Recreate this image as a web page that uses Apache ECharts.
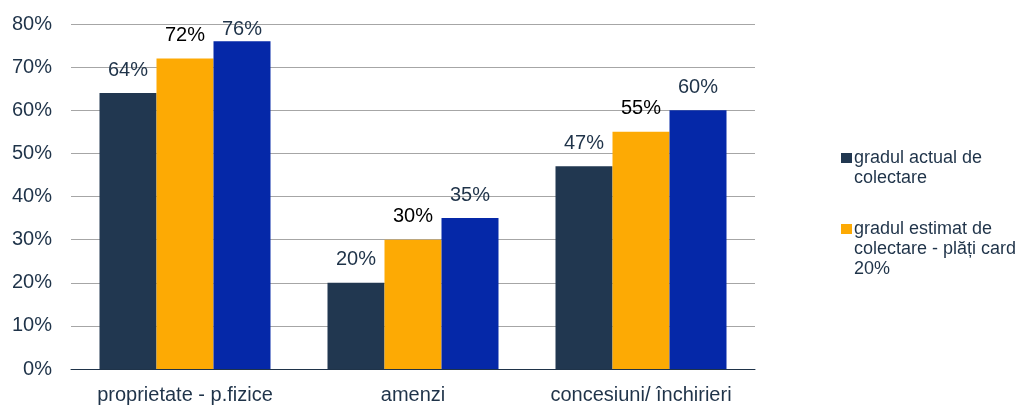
<!DOCTYPE html>
<html>
<head>
<meta charset="utf-8">
<script src="https://cdn.jsdelivr.net/npm/echarts@6/dist/echarts.min.js"></script>
<style>
  html, body { margin: 0; padding: 0; background: #ffffff; }
  #chart { width: 1023px; height: 406px; }
</style>
</head>
<body>
<div id="chart"></div>
<script>
// Categories and series values (percent)
var categories = ['proprietate - p.fizice', 'amenzi', 'concesiuni/ închirieri'];
var seriesNames = [
  'gradul actual de colectare',
  'gradul estimat de colectare - plăți card 20%',
  'gradul estimat de colectare - plăți card 30%'
];
var actualValues = [64, 20, 47];
var estimate20Values = [72, 30, 55];
var estimate30Values = [76, 35, 60];
var yTicks = [0, 10, 20, 30, 40, 50, 60, 70, 80];

// Legend text, wrapped as shown in the side legend (first two series only)
var legendLines = [
  ['gradul actual de', 'colectare'],
  ['gradul estimat de', 'colectare - plăți card', '20%']
];

var FONT = '"Liberation Sans", Arial, sans-serif';
var NAVY = '#1f3349';
var colors = ['#213750', '#fdaa04', '#0528a8'];
var labelColors = [NAVY, '#000000', NAVY];

function makeSeries(idx, values) {
  return {
    name: seriesNames[idx],
    type: 'bar',
    barGap: '0%',
    barCategoryGap: '25%',
    itemStyle: { color: colors[idx] },
    data: values.map(function (v, i) {
      var item = { value: v };
      // the tallest bar's label sits closer to the top of the plot
      if (idx === 2 && i === 0) item.label = { distance: 2 };
      return item;
    }),
    label: {
      show: true,
      position: 'top',
      distance: 13,
      formatter: '{c}%',
      fontFamily: FONT,
      fontSize: 20,
      lineHeight: 20,
      color: labelColors[idx]
    }
  };
}

// Side legend drawn as graphics so the marker aligns with the first text line
var legendGraphics = [];
var legendTops = [153, 224];
legendLines.forEach(function (lines, k) {
  legendGraphics.push({
    type: 'rect',
    left: 841, top: legendTops[k],
    shape: { width: 11, height: 10 },
    style: { fill: colors[k] }
  });
  legendGraphics.push({
    type: 'text',
    left: 854, top: legendTops[k] - 5,
    style: {
      text: lines.join('\n'),
      font: '18px ' + FONT,
      lineHeight: 20,
      fill: NAVY
    }
  });
});

var chart = echarts.init(document.getElementById('chart'));
chart.setOption({
  animation: false,
  backgroundColor: '#ffffff',
  grid: { left: 71, right: 268, top: 24, bottom: 37, containLabel: false },
  xAxis: {
    type: 'category',
    data: categories,
    axisLine: { show: true, lineStyle: { color: NAVY, width: 1 } },
    axisTick: { show: false },
    axisLabel: {
      fontFamily: FONT,
      fontSize: 20,
      color: NAVY,
      margin: 16,
      interval: 0
    }
  },
  yAxis: {
    type: 'value',
    min: yTicks[0],
    max: yTicks[yTicks.length - 1],
    interval: 10,
    axisLine: { show: false },
    axisTick: { show: false },
    splitLine: { lineStyle: { color: '#a6a6a6', width: 1 } },
    axisLabel: {
      fontFamily: FONT,
      fontSize: 20,
      color: NAVY,
      margin: 19,
      formatter: '{value}%'
    }
  },
  series: [
    makeSeries(0, actualValues),
    makeSeries(1, estimate20Values),
    makeSeries(2, estimate30Values)
  ],
  graphic: legendGraphics
});
</script>
</body>
</html>
